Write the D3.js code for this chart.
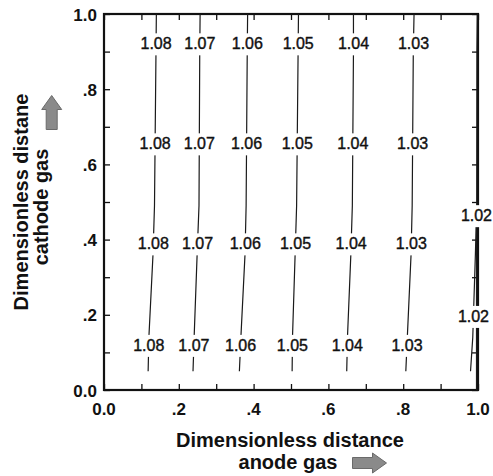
<!DOCTYPE html>
<html>
<head>
<meta charset="UTF-8">
<title>Contours</title>
<style>
body { margin: 0; background: #fff; }
svg { display: block; font-family: Arial, "Liberation Sans", Helvetica, sans-serif; }
</style>
</head>
<body>
<svg id="chart" width="493" height="476"></svg>
<script src="https://d3js.org/d3.v7.min.js"></script>
<script>
// contour levels, left to right
var levels = [1.08, 1.07, 1.06, 1.05, 1.04, 1.03, 1.02];
// heights where each contour is sampled
var sampleY = [0.05, 0.14, 0.36, 0.49, 0.9, 1.0];
// x position of each contour at those heights
var lineX = [
  [0.118, 0.120, 0.131, 0.135, 0.139, 0.140],
  [0.238, 0.241, 0.249, 0.254, 0.256, 0.257],
  [0.362, 0.366, 0.377, 0.380, 0.383, 0.384],
  [0.503, 0.504, 0.511, 0.515, 0.519, 0.520],
  [0.649, 0.651, 0.660, 0.664, 0.667, 0.667],
  [0.807, 0.811, 0.821, 0.824, 0.827, 0.829],
  [0.980, 0.986, 0.993, 0.9965, 0.997, 0.998]
];
// the 1.02 contour also runs up along the right wall
var wallX = [0.996, 0.996];
var wallY = [0.0, 0.44];
// label heights: rows for 1.08..1.03, and the two 1.02 labels
var labelRows = [0.922, 0.656, 0.390, 0.120];
var edgeLabelRows = [0.465, 0.197];
// axis ticks
var minorTicks = [0, 0.1, 0.2, 0.3, 0.4, 0.5, 0.6, 0.7, 0.8, 0.9, 1.0];
var majorTicks = [0, 0.2, 0.4, 0.6, 0.8, 1.0];
var tickLabels = ["0.0", ".2", ".4", ".6", ".8", "1.0"];

var svg = d3.select("#chart");
var x = d3.scaleLinear().domain([0, 1]).range([104, 478]);
var y = d3.scaleLinear().domain([0, 1]).range([390, 14]);
var ink = "#111";

// inward ticks on all four sides
var tickLen = 6;
function tickAxis(axis, tx, ty) {
  var g = svg.append("g").attr("transform", "translate(" + tx + "," + ty + ")")
    .call(axis.tickValues(minorTicks).tickSize(-tickLen).tickFormat(""));
  g.select(".domain").remove();
  g.selectAll(".tick line").attr("stroke", ink).attr("stroke-width", 1.3);
}
tickAxis(d3.axisBottom(x), 0, y(0));
tickAxis(d3.axisTop(x), 0, y(1));
tickAxis(d3.axisLeft(y), x(0), 0);
tickAxis(d3.axisRight(y), x(1), 0);

// frame
svg.append("rect")
  .attr("x", x(0)).attr("y", y(1))
  .attr("width", x(1) - x(0)).attr("height", y(0) - y(1))
  .attr("fill", "none").attr("stroke", ink).attr("stroke-width", 2.2);

// contour lines
var line = d3.line().x(function (d) { return x(d[0]); }).y(function (d) { return y(d[1]); });
var contours = levels.map(function (lv, i) {
  return { level: lv, pts: lineX[i].map(function (v, j) { return [v, sampleY[j]]; }) };
});
svg.append("g").selectAll("path")
  .data(contours)
  .enter().append("path")
  .attr("d", function (d) { return line(d.pts); })
  .attr("fill", "none").attr("stroke", "#1a1a1a").attr("stroke-width", 1.2);
svg.append("path")
  .attr("d", line(wallX.map(function (v, j) { return [v, wallY[j]]; })))
  .attr("fill", "none").attr("stroke", "#1a1a1a").attr("stroke-width", 1.2);

// contour labels sit on the line, with a white patch breaking the line
var labels = [];
contours.forEach(function (c, i) {
  var along = d3.scaleLinear().domain(sampleY).range(lineX[i]);
  var rows = c.level === 1.02 ? edgeLabelRows : labelRows;
  rows.forEach(function (r) {
    labels.push({ text: c.level.toFixed(2), x: along(r), y: r });
  });
});
var lab = svg.append("g").selectAll("g")
  .data(labels)
  .enter().append("g")
  .attr("transform", function (d) { return "translate(" + x(d.x) + "," + y(d.y) + ")"; });
lab.append("rect")
  .attr("x", -17).attr("y", -10).attr("width", 34).attr("height", 22)
  .attr("fill", "#fff");
lab.append("text")
  .attr("text-anchor", "middle")
  .attr("y", 5.7)
  .attr("font-size", 16)
  .attr("fill", ink)
  .attr("stroke", ink).attr("stroke-width", 0.4)
  .text(function (d) { return d.text; });

// tick labels
svg.append("g").selectAll("text")
  .data(majorTicks)
  .enter().append("text")
  .attr("x", function (d) { return x(d); })
  .attr("y", y(0) + 25)
  .attr("text-anchor", "middle")
  .attr("font-size", 17).attr("font-weight", "bold").attr("fill", ink)
  .text(function (d, i) { return tickLabels[i]; });
svg.append("g").selectAll("text")
  .data(majorTicks)
  .enter().append("text")
  .attr("x", x(0) - 7)
  .attr("y", function (d) { return y(d) + 6.5; })
  .attr("text-anchor", "end")
  .attr("font-size", 17).attr("font-weight", "bold").attr("fill", ink)
  .text(function (d, i) { return tickLabels[i]; });

// axis titles
var xTitle = svg.append("g").attr("font-size", 20).attr("font-weight", "bold").attr("fill", ink)
  .attr("text-anchor", "middle");
xTitle.append("text").attr("x", 290).attr("y", 447).text("Dimensionless distance");
xTitle.append("text").attr("x", 288).attr("y", 469).text("anode gas");

var yTitle = svg.append("g").attr("font-size", 20).attr("font-weight", "bold").attr("fill", ink)
  .attr("text-anchor", "middle");
yTitle.append("text").attr("transform", "translate(28,202) rotate(-90)").text("Dimensionless distane");
yTitle.append("text").attr("transform", "translate(48,207) rotate(-90)").text("cathode gas");

// direction arrows
function arrow(tx, ty, rot) {
  // points right, centred on its own origin
  var pts = [[-17, -5.5], [3, -5.5], [3, -10], [17, 0], [3, 10], [3, 5.5], [-17, 5.5]];
  svg.append("polygon")
    .attr("points", pts.map(function (p) { return p.join(","); }).join(" "))
    .attr("transform", "translate(" + tx + "," + ty + ") rotate(" + rot + ")")
    .attr("fill", "#8a8a8a").attr("stroke", "#6a6a6a").attr("stroke-width", 1);
}
arrow(51.7, 112.5, -90);
arrow(369.5, 463, 0);
</script>
</body>
</html>
